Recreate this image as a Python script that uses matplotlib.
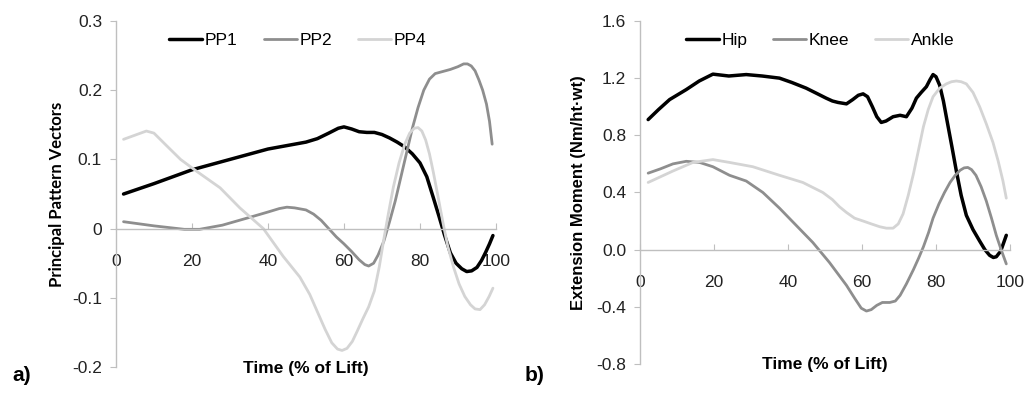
import numpy as np
import matplotlib.pyplot as plt

plt.rcParams['font.family'] = ['Liberation Sans', 'DejaVu Sans']

# panel a) principal pattern vectors
pp1_x = [2, 10, 20, 30, 40, 50, 53, 56, 58.5, 60, 62, 64, 66, 68, 70, 72, 74, 76, 78, 80, 81.8, 83.5, 85, 86.5, 88, 89.5, 91, 92.3, 93.6, 95, 96.2, 97.3, 98.3, 99.2]
pp1_y = [0.05, 0.065, 0.085, 0.1, 0.115, 0.125, 0.13, 0.138, 0.145, 0.147, 0.144, 0.14, 0.139, 0.139, 0.136, 0.131, 0.125, 0.118, 0.108, 0.095, 0.075, 0.045, 0.018, -0.01, -0.035, -0.05, -0.058, -0.062, -0.061, -0.056, -0.046, -0.034, -0.022, -0.01]

pp2_x = [2, 10, 18, 22, 28, 35, 40, 43, 45, 47, 50, 52, 54, 56, 58, 60, 62, 64, 65.5, 66.5, 67.8, 69, 70.5, 72, 73.5, 75, 76.5, 78, 79.5, 81, 82.5, 84, 86, 88, 90, 91.5, 92.5, 93.5, 94.5, 95.5, 96.5, 97.5, 98.3, 99]
pp2_y = [0.01, 0.004, -0.001, -0.001, 0.005, 0.016, 0.024, 0.029, 0.031, 0.03, 0.027, 0.021, 0.012, 0.0, -0.012, -0.022, -0.033, -0.045, -0.052, -0.054, -0.05, -0.038, -0.018, 0.01, 0.04, 0.075, 0.11, 0.145, 0.175, 0.2, 0.216, 0.224, 0.227, 0.23, 0.234, 0.238, 0.238, 0.235, 0.228, 0.215, 0.2, 0.18, 0.155, 0.122]

pp4_x = [2, 5, 8, 10, 13.3, 17, 21.2, 27.4, 32.6, 38.8, 44, 48.4, 51, 53, 55, 56.8, 58.3, 59.5, 60.8, 62.2, 63.5, 65, 66.5, 68, 69.3, 70.5, 71.8, 73, 74.5, 76, 77.3, 78.5, 79.5, 80.5, 81.5, 82.5, 83.5, 84.8, 86, 87.3, 88.8, 90.3, 91.8, 93.3, 94.5, 95.8, 97, 98.2, 99.2]
pp4_y = [0.129, 0.135, 0.141, 0.138, 0.12, 0.1, 0.083, 0.059, 0.03, 0.0, -0.04, -0.07, -0.095, -0.12, -0.145, -0.165, -0.174, -0.176, -0.173, -0.163, -0.148, -0.13, -0.113, -0.09, -0.055, -0.015, 0.025, 0.06, 0.095, 0.122, 0.138, 0.145, 0.146, 0.141, 0.128, 0.108, 0.082, 0.045, 0.01, -0.025, -0.055, -0.08, -0.098, -0.11, -0.116, -0.117, -0.11, -0.098, -0.086]

# panel b) extension moments
hip_x = [2.2, 5, 8, 12.5, 16, 19.7, 24, 28.7, 33, 37.7, 41, 44.9, 48, 50.3, 52, 53.5, 55.8, 57.5, 59, 60.3, 61.5, 62.8, 64, 65.2, 66.5, 68.4, 70.3, 72, 73.5, 74.7, 76, 77.4, 78.4, 79.2, 80, 81, 82, 83, 84.3, 85.5, 86.8, 88.2, 90, 91.8, 93.2, 94.5, 95.5, 96.3, 97.5, 99]
hip_y = [0.91, 0.98, 1.05, 1.12, 1.18, 1.228, 1.215, 1.225, 1.215, 1.2, 1.17, 1.13, 1.09, 1.06, 1.04, 1.03, 1.02, 1.05, 1.08, 1.09, 1.07, 1.0, 0.93, 0.89, 0.9, 0.93, 0.94, 0.93, 0.99, 1.06, 1.1, 1.14, 1.19, 1.225, 1.21, 1.15, 1.04, 0.9, 0.72, 0.55, 0.38, 0.24, 0.14, 0.06, 0.0, -0.04, -0.055, -0.05, -0.01, 0.1]

knee_x = [2.2, 5.5, 8.9, 12.5, 16.1, 19.7, 24.2, 28.7, 33.2, 37.7, 42.2, 46.7, 51.2, 55.8, 58, 59.8, 61.2, 62.5, 64, 65.5, 67.5, 69, 70.3, 72, 73.9, 75.3, 76.6, 78, 79.2, 80.8, 82.3, 83.8, 85.2, 86.5, 87.6, 88.6, 89.6, 90.8, 92.2, 93.6, 95, 96.3, 97.6, 99]
knee_y = [0.535, 0.565, 0.6, 0.618, 0.61, 0.58, 0.52, 0.48, 0.4, 0.29, 0.17, 0.05, -0.09, -0.25, -0.34, -0.41, -0.43, -0.42, -0.39, -0.37, -0.37, -0.36, -0.32, -0.24, -0.14, -0.06, 0.02, 0.12, 0.22, 0.32, 0.4, 0.47, 0.52, 0.555, 0.572, 0.575, 0.56, 0.52, 0.44, 0.34, 0.22, 0.1, 0.0, -0.1]

ankle_x = [2.2, 8.9, 14.3, 19.7, 24.2, 30.5, 37.7, 44, 49.4, 52, 53.9, 55.8, 58, 60.3, 62.5, 64.8, 66.6, 68.4, 69.8, 71.1, 72.5, 73.9, 75.3, 76.6, 77.9, 79.2, 81, 82.8, 84.2, 85.5, 86.8, 88.2, 90, 91.8, 93.6, 95.4, 96.8, 98.1, 99]
ankle_y = [0.47, 0.55, 0.61, 0.63, 0.61, 0.58, 0.52, 0.47, 0.4, 0.35, 0.3, 0.26, 0.22, 0.2, 0.18, 0.16, 0.15, 0.15, 0.18, 0.25, 0.38, 0.53, 0.7, 0.86, 0.98, 1.07, 1.13, 1.16, 1.175, 1.18, 1.175, 1.16, 1.1, 1.0, 0.88, 0.75, 0.62, 0.48, 0.36]

BLACK = '#000000'
MID = '#8e8e8e'
LIGHT = '#d4d4d4'
AXC = '#bfbfbf'


def style_axis(ax, ylim, yticks, ylabels):
    ax.set_xlim(0, 100)
    ax.set_ylim(*ylim)
    ax.set_yticks(yticks)
    ax.set_yticklabels(ylabels)
    ax.set_xticks([0, 20, 40, 60, 80, 100])
    ax.spines['top'].set_visible(False)
    ax.spines['right'].set_visible(False)
    ax.spines['bottom'].set_position(('data', 0))
    for s in ['left', 'bottom']:
        ax.spines[s].set_color(AXC)
        ax.spines[s].set_linewidth(1.0)
    ax.tick_params(axis='y', direction='out', length=4, color=AXC, labelsize=12.5,
                   labelcolor='#222222', pad=6)
    ax.tick_params(axis='x', direction='in', length=4, color=AXC, labelsize=12.5,
                   labelcolor='#222222', pad=18)
    for lab in ax.get_xticklabels():
        lab.set_clip_on(False)
    ax.set_xlabel('Time (% of Lift)', fontsize=12.5, fontweight='bold')
    ax.xaxis.set_label_coords(0.5, -0.025)
    ax.xaxis.label.set_verticalalignment('bottom')


fig = plt.figure(figsize=(10.26, 3.93), dpi=100)
ax1 = fig.add_axes([0.113, 0.066, 0.3704, 0.8806])
ax2 = fig.add_axes([0.6238, 0.074, 0.3606, 0.8726])

kw = dict(solid_joinstyle='round', solid_capstyle='round')
ax1.plot(pp1_x, pp1_y, color=BLACK, lw=2.5, label='PP1', **kw)
ax1.plot(pp2_x, pp2_y, color=MID, lw=2.0, label='PP2', **kw)
ax1.plot(pp4_x, pp4_y, color=LIGHT, lw=2.0, label='PP4', **kw)
style_axis(ax1, (-0.2, 0.3), [-0.2, -0.1, 0, 0.1, 0.2, 0.3],
           ['-0.2', '-0.1', '0', '0.1', '0.2', '0.3'])
ax1.set_ylabel('Principal Pattern Vectors', fontsize=12, fontweight='bold',
               family=['Lato', 'DejaVu Sans'])
ax1.yaxis.set_label_coords(-0.135, 0.5)

ax2.plot(hip_x, hip_y, color=BLACK, lw=2.5, label='Hip', **kw)
ax2.plot(knee_x, knee_y, color=MID, lw=2.0, label='Knee', **kw)
ax2.plot(ankle_x, ankle_y, color=LIGHT, lw=2.0, label='Ankle', **kw)
style_axis(ax2, (-0.8, 1.6), [-0.8, -0.4, 0.0, 0.4, 0.8, 1.2, 1.6],
           ['-0.8', '-0.4', '0.0', '0.4', '0.8', '1.2', '1.6'])
ax2.set_ylabel('Extension Moment (Nm/ht\u00b7wt)', fontsize=12, fontweight='bold')
ax2.yaxis.set_label_coords(-0.145, 0.5)

ax1.legend(loc='upper center', bbox_to_anchor=(0.478, 1.01), ncol=3, frameon=False,
           fontsize=12.5, handlelength=1.9, handletextpad=0.15, columnspacing=1.5)
ax2.legend(loc='upper center', bbox_to_anchor=(0.487, 1.01), ncol=3, frameon=False,
           fontsize=12.5, handlelength=1.9, handletextpad=0.15, columnspacing=1.5)

fig.text(0.012, 0.03, 'a)', fontsize=15, fontweight='bold')
fig.text(0.511, 0.03, 'b)', fontsize=15, fontweight='bold')

fig.savefig('out.png', dpi=100)
